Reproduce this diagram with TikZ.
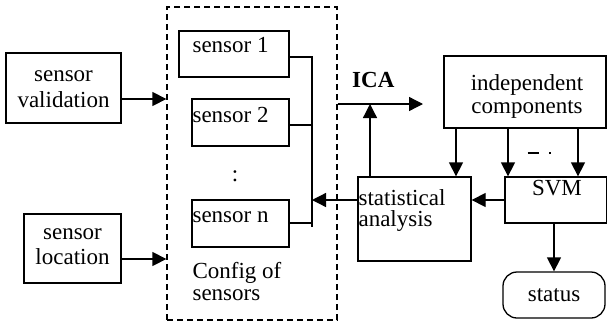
\documentclass[tikz,border=0pt]{standalone}
\usepackage{fontspec}
\setmainfont{Liberation Serif}
\usetikzlibrary{arrows.meta,calc}
\begin{document}
\begin{tikzpicture}[x=1pt,y=-1pt,
  every node/.style={font=\fontsize{23}{25}\selectfont},
  box/.style={draw, line width=1.3pt, inner sep=0pt},
  lbl/.style={inner sep=0pt, align=center, anchor=base},
  lbll/.style={inner sep=0pt, align=left, anchor=base west},
  conn/.style={line width=1.3pt},
  arr/.style={conn, -{Triangle[length=14pt,width=14pt]}}]
\useasboundingbox (0,0) rectangle (607,322);
% left boxes
\node[box, minimum width=115pt, minimum height=70pt,
  label={[lbl, yshift=-55pt, font=\fontsize{23}{26}\selectfont]north:sensor\\validation}] (sv) at (63.5,88) {};
\node[box, minimum width=97pt, minimum height=69pt,
  label={[lbl, yshift=-51pt]north:sensor\\location}] (sl) at (72.5,248.5) {};
% config box
\node[box, dashed, dash pattern=on 6pt off 4pt, minimum width=170pt, minimum height=313pt,
  label={[lbll, xshift=26pt, yshift=20pt, font=\fontsize{23}{22}\selectfont]south west:Config of\\sensors}] (cfg) at (252,163.5) {};
% sensors
\node[box, minimum width=110pt, minimum height=46pt,
  label={[lbll, xshift=14pt, yshift=-22pt]north west:sensor 1}] (s1) at (234,54) {};
\node[box, minimum width=97pt, minimum height=47pt,
  label={[lbll, xshift=1pt, yshift=-24pt]north west:sensor 2}] (s2) at (240.5,122.5) {};
\node[box, minimum width=97pt, minimum height=47pt,
  label={[lbll, xshift=1pt, yshift=-23pt]north west:sensor n}] (sn) at (240.5,223.5) {};
\node[inner sep=0pt] (dots) at (235,176) {:};
% right side
\node[box, minimum width=162pt, minimum height=72pt,
  label={[lbl, xshift=2pt, yshift=-58pt, font=\fontsize{23}{23}\selectfont]north:independent\\components}] (ic) at (525,92) {};
\node[box, minimum width=113pt, minimum height=84pt,
  label={[lbll, xshift=1pt, yshift=-50pt, font=\fontsize{23}{21}\selectfont]north west:statistical\\analysis}] (sa) at (414.5,219) {};
\node[box, minimum width=102pt, minimum height=46pt,
  label={[lbl, xshift=1pt, yshift=-19pt]north:SVM}] (svm) at (556,200) {};
\node[box, rounded corners=14pt, minimum width=102pt, minimum height=46pt] (st) at (554,295) {status};
\node[inner sep=0pt, font=\fontsize{23}{25}\selectfont\bfseries, anchor=base west] (ica) at (352,87) {ICA};
\node[inner sep=0pt] (dd) at (539,153) {\rule{11pt}{1.6pt}\hspace{10pt}\rule{2pt}{2pt}};
% coordinates
\coordinate (busT) at (312,57);
\coordinate (busB) at (312,227);
\coordinate (icaE) at (423,104);
% connectors
\draw[arr] ([yshift=-11pt]sv.east) -- ([yshift=-11pt]sv.east -| cfg.west);
\draw[arr] ([yshift=-10.5pt]sl.east) -- ([yshift=-10.5pt]sl.east -| cfg.west);
\draw[conn] ([yshift=-3pt]s1.east) -| (busB);
\draw[conn] ([yshift=-2.5pt]s2.east) -- ([yshift=-2.5pt]s2.east -| busT);
\draw[conn] ([yshift=0.5pt]sn.east) -- ([yshift=0.5pt]sn.east -| busT);
\draw[arr] ([yshift=19pt]sa.west) -- ([yshift=19pt]sa.west -| busT);
\draw[arr] (cfg.east |- icaE) -- (icaE);
\draw[arr] ([xshift=-44.5pt]sa.north) -- ([xshift=-44.5pt]sa.north |- icaE);
\draw[arr] (ic.south -| 456,0) -- (sa.north -| 456,0);
\draw[arr] (ic.south -| 508,0) -- (svm.north -| 508,0);
\draw[arr] (ic.south -| 578,0) -- (svm.north -| 578,0);
\draw[arr] (svm.west) -- (sa.east |- svm.west);
\draw[arr] (svm.south -| st.north) -- (st.north);
\end{tikzpicture}
\end{document}
